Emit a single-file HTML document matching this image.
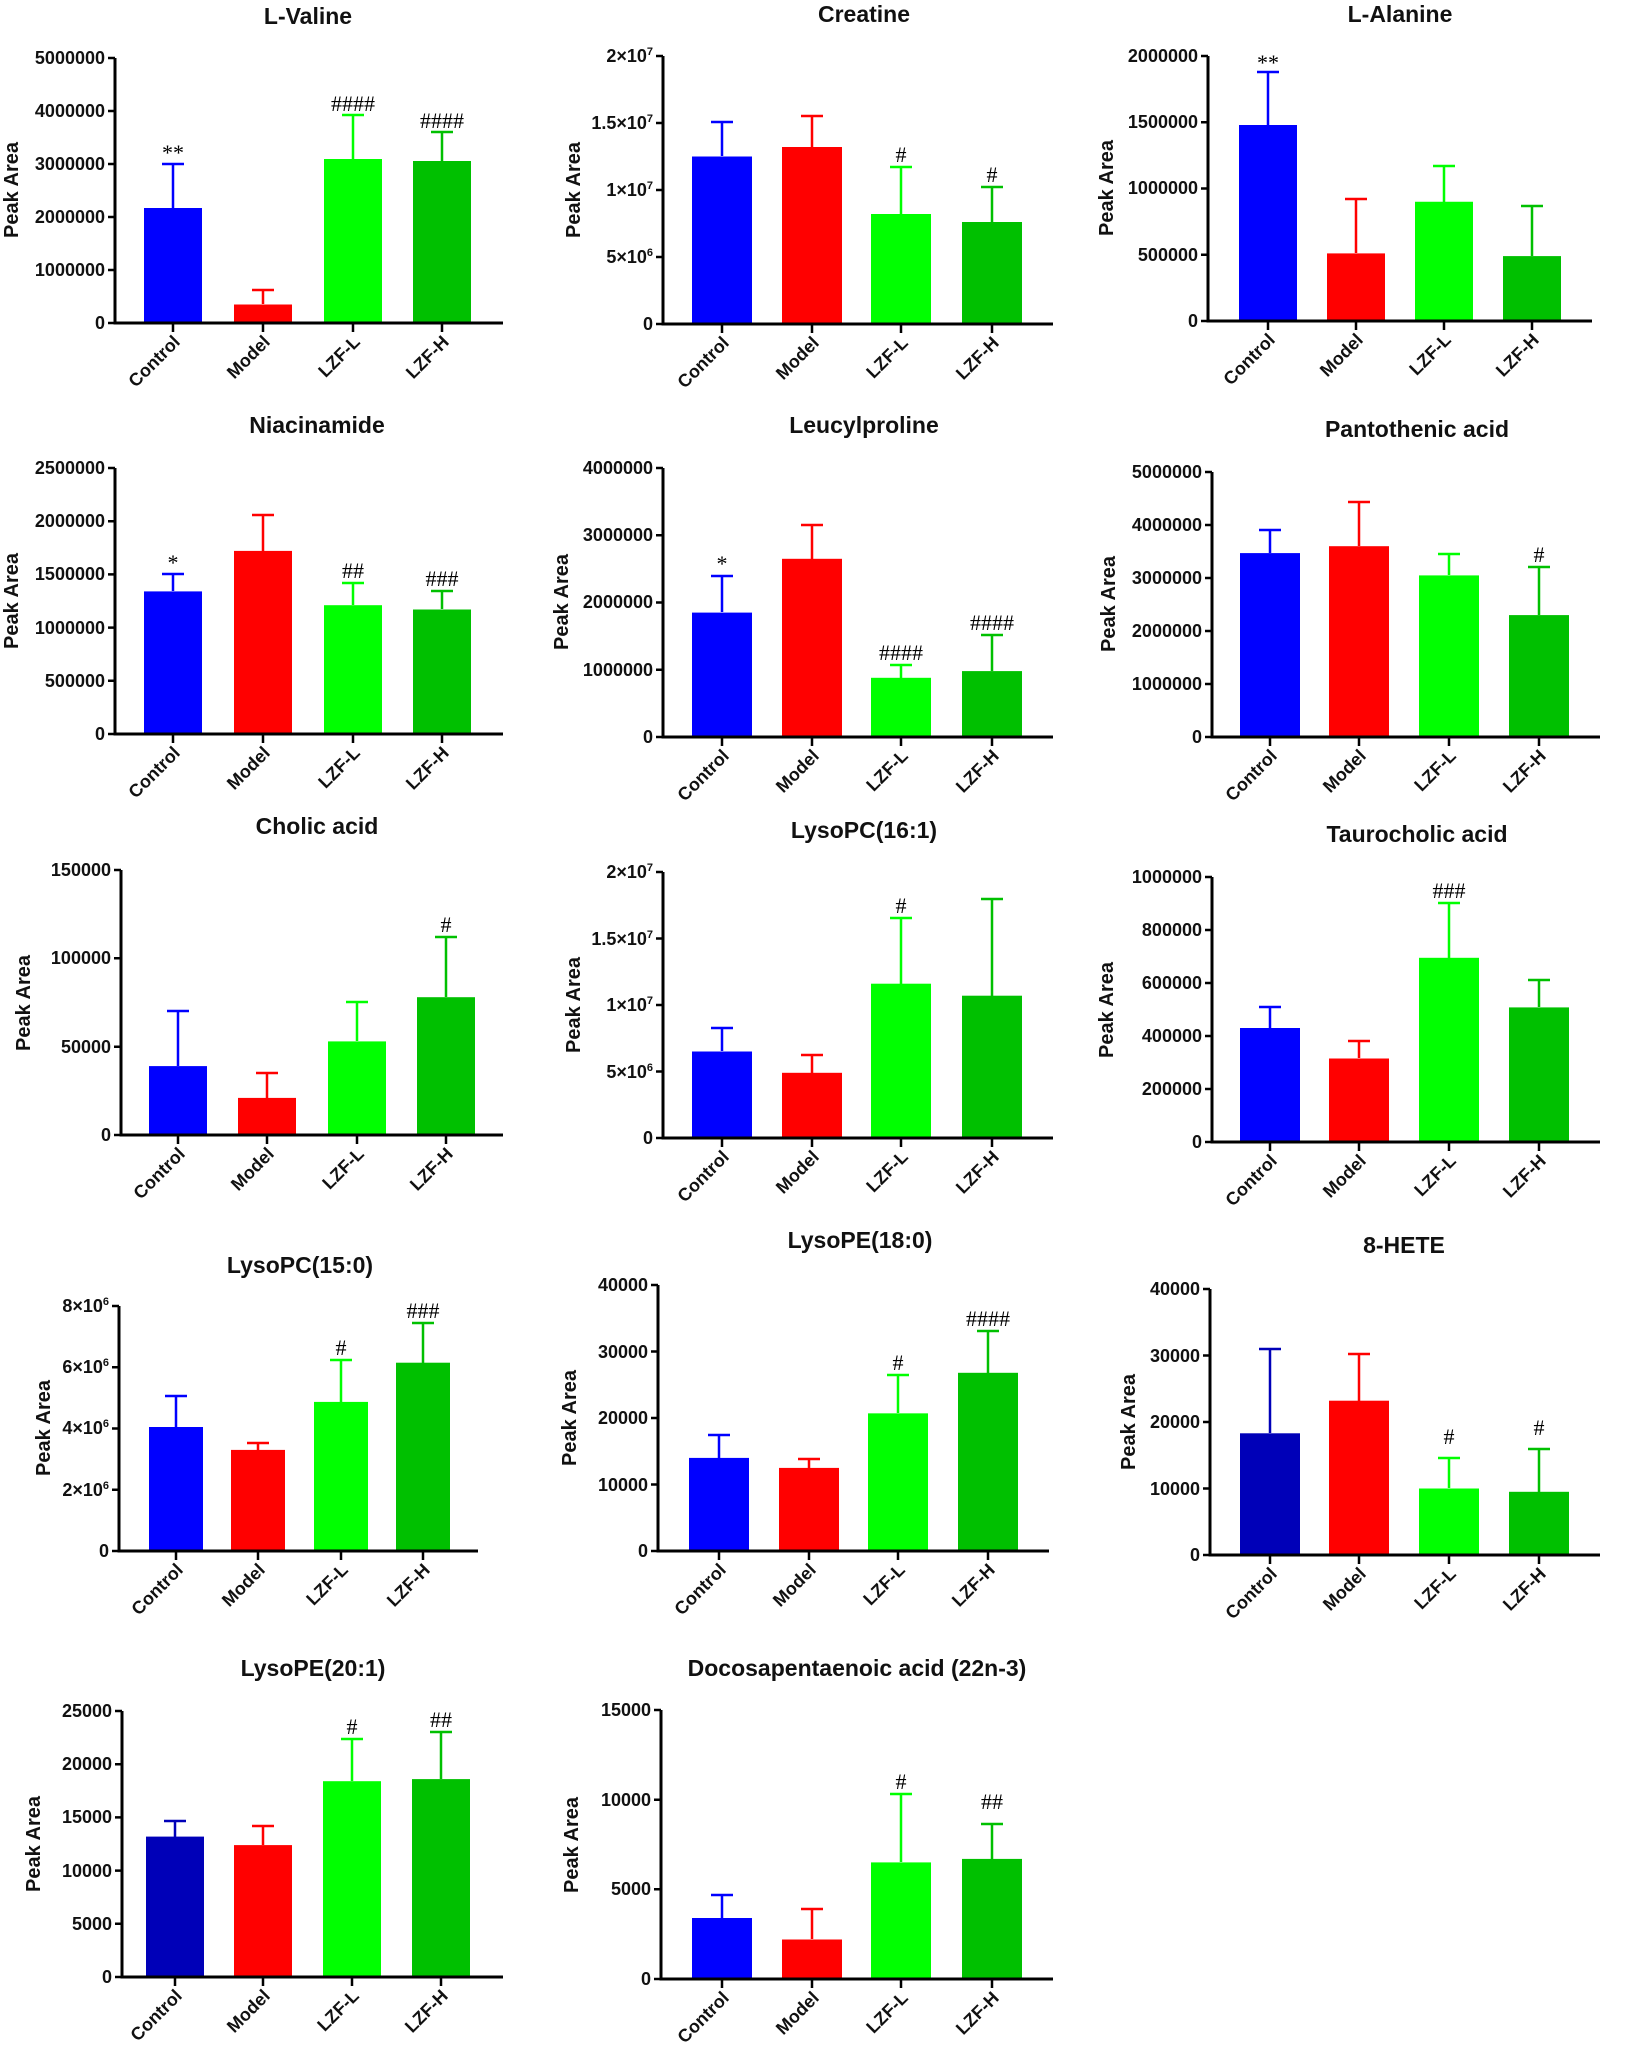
<!DOCTYPE html>
<html><head><meta charset="utf-8"><style>
html,body{margin:0;padding:0;background:#fff}
svg{display:block}
.t{font:bold 23px "Liberation Sans",sans-serif;text-anchor:middle;fill:#111}
.k{font:bold 18px "Liberation Sans",sans-serif;text-anchor:end;fill:#111}
.y{font:bold 20px "Liberation Sans",sans-serif;text-anchor:middle;fill:#111}
.x{font:bold 18px "Liberation Sans",sans-serif;text-anchor:end;fill:#111}
.s{font:22px "Liberation Serif",serif;text-anchor:middle;fill:#000}
.ax{stroke:#000;stroke-width:3;fill:none}
.tk{stroke:#000;stroke-width:2.5}
</style></head><body>
<svg width="1626" height="2059" viewBox="0 0 1626 2059" xmlns="http://www.w3.org/2000/svg">
<rect width="1626" height="2059" fill="#fff"/>

<!-- 1 L-Valine -->
<text class="t" x="308" y="24">L-Valine</text>
<text class="y" transform="translate(18,190) rotate(-90)">Peak Area</text>
<g class="k"><text x="105" y="329">0</text><text x="105" y="276">1000000</text><text x="105" y="223">2000000</text><text x="105" y="170">3000000</text><text x="105" y="117">4000000</text><text x="105" y="64">5000000</text></g>
<path class="tk" d="M108 323H115M108 270H115M108 217H115M108 164H115M108 111H115M108 58H115"/>
<rect x="144" y="208" width="58" height="115" fill="#0000ff"/>
<rect x="234" y="304.5" width="58" height="18.5" fill="#ff0000"/>
<rect x="324" y="159" width="58" height="164" fill="#00ff00"/>
<rect x="413" y="161" width="58" height="162" fill="#00c000"/>
<path d="M173 208V164M162 164H184" stroke="#0000ff" stroke-width="2.5"/>
<path d="M263 304V290M252 290H274" stroke="#ff0000" stroke-width="2.5"/>
<path d="M353 159V115M342 115H364" stroke="#00ff00" stroke-width="2.5"/>
<path d="M442 161V132M431 132H453" stroke="#00c000" stroke-width="2.5"/>
<text class="s" x="173" y="160">**</text><text class="s" x="353" y="111">####</text><text class="s" x="442" y="128">####</text>
<path class="ax" d="M115 58V323H503"/>
<path class="tk" d="M173 323V332M263 323V332M353 323V332M442 323V332"/>
<g class="x"><text transform="translate(181,343) rotate(-45)">Control</text><text transform="translate(271,343) rotate(-45)">Model</text><text transform="translate(361,343) rotate(-45)">LZF-L</text><text transform="translate(450,343) rotate(-45)">LZF-H</text></g>

<!-- 2 Creatine -->
<text class="t" x="864" y="22">Creatine</text>
<text class="y" transform="translate(580,190) rotate(-90)">Peak Area</text>
<g class="k"><text x="653" y="330">0</text><text x="653" y="263">5×10<tspan font-size="11" dy="-7">6</tspan></text><text x="653" y="196">1×10<tspan font-size="11" dy="-7">7</tspan></text><text x="653" y="129">1.5×10<tspan font-size="11" dy="-7">7</tspan></text><text x="653" y="62">2×10<tspan font-size="11" dy="-7">7</tspan></text></g>
<path class="tk" d="M656 324H663M656 257H663M656 190H663M656 123H663M656 56H663"/>
<rect x="692" y="156.5" width="60" height="167.5" fill="#0000ff"/>
<rect x="782" y="147" width="60" height="177" fill="#ff0000"/>
<rect x="871" y="214" width="60" height="110" fill="#00ff00"/>
<rect x="962" y="222" width="60" height="102" fill="#00c000"/>
<path d="M722 156V122M711 122H733" stroke="#0000ff" stroke-width="2.5"/>
<path d="M812 147V116M801 116H823" stroke="#ff0000" stroke-width="2.5"/>
<path d="M901 214V167M890 167H912" stroke="#00ff00" stroke-width="2.5"/>
<path d="M992 222V187M981 187H1003" stroke="#00c000" stroke-width="2.5"/>
<text class="s" x="901" y="162">#</text><text class="s" x="992" y="182">#</text>
<path class="ax" d="M663 56V324H1053"/>
<path class="tk" d="M722 324V333M812 324V333M901 324V333M992 324V333"/>
<g class="x"><text transform="translate(730,344) rotate(-45)">Control</text><text transform="translate(820,344) rotate(-45)">Model</text><text transform="translate(909,344) rotate(-45)">LZF-L</text><text transform="translate(1000,344) rotate(-45)">LZF-H</text></g>

<!-- 3 L-Alanine -->
<text class="t" x="1400" y="22">L-Alanine</text>
<text class="y" transform="translate(1113,188) rotate(-90)">Peak Area</text>
<g class="k"><text x="1198" y="327">0</text><text x="1198" y="261">500000</text><text x="1198" y="194">1000000</text><text x="1198" y="128">1500000</text><text x="1198" y="62">2000000</text></g>
<path class="tk" d="M1201 321H1208M1201 254.75H1208M1201 188.5H1208M1201 122.25H1208M1201 56H1208"/>
<rect x="1239" y="125" width="58" height="196" fill="#0000ff"/>
<rect x="1327" y="253.4" width="58" height="67.6" fill="#ff0000"/>
<rect x="1415" y="201.75" width="58" height="119.25" fill="#00ff00"/>
<rect x="1503" y="256.1" width="58" height="64.9" fill="#00c000"/>
<path d="M1268 125V72M1257 72H1279" stroke="#0000ff" stroke-width="2.5"/>
<path d="M1356 253V199M1345 199H1367" stroke="#ff0000" stroke-width="2.5"/>
<path d="M1444 202V166M1433 166H1455" stroke="#00ff00" stroke-width="2.5"/>
<path d="M1532 256V206M1521 206H1543" stroke="#00c000" stroke-width="2.5"/>
<text class="s" x="1268" y="70">**</text>
<path class="ax" d="M1208 56V321H1592"/>
<path class="tk" d="M1268 321V330M1356 321V330M1444 321V330M1532 321V330"/>
<g class="x"><text transform="translate(1276,341) rotate(-45)">Control</text><text transform="translate(1364,341) rotate(-45)">Model</text><text transform="translate(1452,341) rotate(-45)">LZF-L</text><text transform="translate(1540,341) rotate(-45)">LZF-H</text></g>

<!-- 4 Niacinamide -->
<text class="t" x="317" y="433">Niacinamide</text>
<text class="y" transform="translate(18,601) rotate(-90)">Peak Area</text>
<g class="k"><text x="105" y="740">0</text><text x="105" y="687">500000</text><text x="105" y="634">1000000</text><text x="105" y="580">1500000</text><text x="105" y="527">2000000</text><text x="105" y="474">2500000</text></g>
<path class="tk" d="M108 734H115M108 680.8H115M108 627.6H115M108 574.4H115M108 521.2H115M108 468H115"/>
<rect x="144" y="591.4" width="58" height="142.6" fill="#0000ff"/>
<rect x="234" y="550.9" width="58" height="183.1" fill="#ff0000"/>
<rect x="324" y="605.2" width="58" height="128.8" fill="#00ff00"/>
<rect x="413" y="609.5" width="58" height="124.5" fill="#00c000"/>
<path d="M173 591V574M162 574H184" stroke="#0000ff" stroke-width="2.5"/>
<path d="M263 551V515M252 515H274" stroke="#ff0000" stroke-width="2.5"/>
<path d="M353 605V583M342 583H364" stroke="#00ff00" stroke-width="2.5"/>
<path d="M442 609V591M431 591H453" stroke="#00c000" stroke-width="2.5"/>
<text class="s" x="173" y="570">*</text><text class="s" x="353" y="578">##</text><text class="s" x="442" y="586">###</text>
<path class="ax" d="M115 468V734H503"/>
<path class="tk" d="M173 734V743M263 734V743M353 734V743M442 734V743"/>
<g class="x"><text transform="translate(181,754) rotate(-45)">Control</text><text transform="translate(271,754) rotate(-45)">Model</text><text transform="translate(361,754) rotate(-45)">LZF-L</text><text transform="translate(450,754) rotate(-45)">LZF-H</text></g>

<!-- 5 Leucylproline -->
<text class="t" x="864" y="433">Leucylproline</text>
<text class="y" transform="translate(568,602) rotate(-90)">Peak Area</text>
<g class="k"><text x="653" y="743">0</text><text x="653" y="676">1000000</text><text x="653" y="608">2000000</text><text x="653" y="541">3000000</text><text x="653" y="474">4000000</text></g>
<path class="tk" d="M656 737H663M656 669.75H663M656 602.5H663M656 535.25H663M656 468H663"/>
<rect x="692" y="612.6" width="60" height="124.4" fill="#0000ff"/>
<rect x="782" y="558.8" width="60" height="178.2" fill="#ff0000"/>
<rect x="871" y="677.8" width="60" height="59.2" fill="#00ff00"/>
<rect x="962" y="671.1" width="60" height="65.9" fill="#00c000"/>
<path d="M722 612V576M711 576H733" stroke="#0000ff" stroke-width="2.5"/>
<path d="M812 559V525M801 525H823" stroke="#ff0000" stroke-width="2.5"/>
<path d="M901 678V665M890 665H912" stroke="#00ff00" stroke-width="2.5"/>
<path d="M992 671V635M981 635H1003" stroke="#00c000" stroke-width="2.5"/>
<text class="s" x="722" y="571">*</text><text class="s" x="901" y="660">####</text><text class="s" x="992" y="630">####</text>
<path class="ax" d="M663 468V737H1053"/>
<path class="tk" d="M722 737V746M812 737V746M901 737V746M992 737V746"/>
<g class="x"><text transform="translate(730,757) rotate(-45)">Control</text><text transform="translate(820,757) rotate(-45)">Model</text><text transform="translate(909,757) rotate(-45)">LZF-L</text><text transform="translate(1000,757) rotate(-45)">LZF-H</text></g>

<!-- 6 Pantothenic acid -->
<text class="t" x="1417" y="437">Pantothenic acid</text>
<text class="y" transform="translate(1115,604) rotate(-90)">Peak Area</text>
<g class="k"><text x="1202" y="743">0</text><text x="1202" y="690">1000000</text><text x="1202" y="637">2000000</text><text x="1202" y="584">3000000</text><text x="1202" y="531">4000000</text><text x="1202" y="478">5000000</text></g>
<path class="tk" d="M1205 737H1212M1205 684H1212M1205 631H1212M1205 578H1212M1205 525H1212M1205 472H1212"/>
<rect x="1240" y="553.1" width="60" height="183.9" fill="#0000ff"/>
<rect x="1329" y="546.2" width="60" height="190.8" fill="#ff0000"/>
<rect x="1419" y="575.4" width="60" height="161.6" fill="#00ff00"/>
<rect x="1509" y="615.1" width="60" height="121.9" fill="#00c000"/>
<path d="M1270 553V530M1259 530H1281" stroke="#0000ff" stroke-width="2.5"/>
<path d="M1359 546V502M1348 502H1370" stroke="#ff0000" stroke-width="2.5"/>
<path d="M1449 575V554M1438 554H1460" stroke="#00ff00" stroke-width="2.5"/>
<path d="M1539 615V567M1528 567H1550" stroke="#00c000" stroke-width="2.5"/>
<text class="s" x="1539" y="562">#</text>
<path class="ax" d="M1212 472V737H1600"/>
<path class="tk" d="M1270 737V746M1359 737V746M1449 737V746M1539 737V746"/>
<g class="x"><text transform="translate(1278,757) rotate(-45)">Control</text><text transform="translate(1367,757) rotate(-45)">Model</text><text transform="translate(1457,757) rotate(-45)">LZF-L</text><text transform="translate(1547,757) rotate(-45)">LZF-H</text></g>

<!-- 7 Cholic acid -->
<text class="t" x="317" y="834">Cholic acid</text>
<text class="y" transform="translate(30,1003) rotate(-90)">Peak Area</text>
<g class="k"><text x="111" y="1141">0</text><text x="111" y="1053">50000</text><text x="111" y="964">100000</text><text x="111" y="876">150000</text></g>
<path class="tk" d="M114 1135H121M114 1046.7H121M114 958.3H121M114 870H121"/>
<rect x="149" y="1066.1" width="58" height="68.9" fill="#0000ff"/>
<rect x="238" y="1097.9" width="58" height="37.1" fill="#ff0000"/>
<rect x="328" y="1041.4" width="58" height="93.6" fill="#00ff00"/>
<rect x="417" y="997.2" width="58" height="137.8" fill="#00c000"/>
<path d="M178 1066V1011M167 1011H189" stroke="#0000ff" stroke-width="2.5"/>
<path d="M267 1098V1073M256 1073H278" stroke="#ff0000" stroke-width="2.5"/>
<path d="M357 1041V1002M346 1002H368" stroke="#00ff00" stroke-width="2.5"/>
<path d="M446 997V937M435 937H457" stroke="#00c000" stroke-width="2.5"/>
<text class="s" x="446" y="932">#</text>
<path class="ax" d="M121 870V1135H503"/>
<path class="tk" d="M178 1135V1144M267 1135V1144M357 1135V1144M446 1135V1144"/>
<g class="x"><text transform="translate(186,1155) rotate(-45)">Control</text><text transform="translate(275,1155) rotate(-45)">Model</text><text transform="translate(365,1155) rotate(-45)">LZF-L</text><text transform="translate(454,1155) rotate(-45)">LZF-H</text></g>

<!-- 8 LysoPC(16:1) -->
<text class="t" x="864" y="838">LysoPC(16:1)</text>
<text class="y" transform="translate(580,1005) rotate(-90)">Peak Area</text>
<g class="k"><text x="653" y="1144">0</text><text x="653" y="1078">5×10<tspan font-size="11" dy="-7">6</tspan></text><text x="653" y="1011">1×10<tspan font-size="11" dy="-7">7</tspan></text><text x="653" y="945">1.5×10<tspan font-size="11" dy="-7">7</tspan></text><text x="653" y="878">2×10<tspan font-size="11" dy="-7">7</tspan></text></g>
<path class="tk" d="M656 1138H663M656 1071.5H663M656 1005H663M656 938.5H663M656 872H663"/>
<rect x="692" y="1051.5" width="60" height="86.5" fill="#0000ff"/>
<rect x="782" y="1072.8" width="60" height="65.2" fill="#ff0000"/>
<rect x="871" y="983.7" width="60" height="154.3" fill="#00ff00"/>
<rect x="962" y="995.7" width="60" height="142.3" fill="#00c000"/>
<path d="M722 1051V1028M711 1028H733" stroke="#0000ff" stroke-width="2.5"/>
<path d="M812 1073V1055M801 1055H823" stroke="#ff0000" stroke-width="2.5"/>
<path d="M901 984V918M890 918H912" stroke="#00ff00" stroke-width="2.5"/>
<path d="M992 996V899M981 899H1003" stroke="#00c000" stroke-width="2.5"/>
<text class="s" x="901" y="913">#</text>
<path class="ax" d="M663 872V1138H1053"/>
<path class="tk" d="M722 1138V1147M812 1138V1147M901 1138V1147M992 1138V1147"/>
<g class="x"><text transform="translate(730,1158) rotate(-45)">Control</text><text transform="translate(820,1158) rotate(-45)">Model</text><text transform="translate(909,1158) rotate(-45)">LZF-L</text><text transform="translate(1000,1158) rotate(-45)">LZF-H</text></g>

<!-- 9 Taurocholic acid -->
<text class="t" x="1417" y="842">Taurocholic acid</text>
<text class="y" transform="translate(1113,1010) rotate(-90)">Peak Area</text>
<g class="k"><text x="1202" y="1148">0</text><text x="1202" y="1095">200000</text><text x="1202" y="1042">400000</text><text x="1202" y="989">600000</text><text x="1202" y="936">800000</text><text x="1202" y="883">1000000</text></g>
<path class="tk" d="M1205 1142H1212M1205 1089H1212M1205 1036H1212M1205 983H1212M1205 930H1212M1205 877H1212"/>
<rect x="1240" y="1028" width="60" height="114" fill="#0000ff"/>
<rect x="1329" y="1058.5" width="60" height="83.5" fill="#ff0000"/>
<rect x="1419" y="957.8" width="60" height="184.2" fill="#00ff00"/>
<rect x="1509" y="1007.4" width="60" height="134.6" fill="#00c000"/>
<path d="M1270 1028V1007M1259 1007H1281" stroke="#0000ff" stroke-width="2.5"/>
<path d="M1359 1058V1041M1348 1041H1370" stroke="#ff0000" stroke-width="2.5"/>
<path d="M1449 958V903M1438 903H1460" stroke="#00ff00" stroke-width="2.5"/>
<path d="M1539 1007V980M1528 980H1550" stroke="#00c000" stroke-width="2.5"/>
<text class="s" x="1449" y="898">###</text>
<path class="ax" d="M1212 877V1142H1600"/>
<path class="tk" d="M1270 1142V1151M1359 1142V1151M1449 1142V1151M1539 1142V1151"/>
<g class="x"><text transform="translate(1278,1162) rotate(-45)">Control</text><text transform="translate(1367,1162) rotate(-45)">Model</text><text transform="translate(1457,1162) rotate(-45)">LZF-L</text><text transform="translate(1547,1162) rotate(-45)">LZF-H</text></g>

<!-- 10 LysoPC(15:0) -->
<text class="t" x="300" y="1273">LysoPC(15:0)</text>
<text class="y" transform="translate(50,1428) rotate(-90)">Peak Area</text>
<g class="k"><text x="109" y="1557">0</text><text x="109" y="1496">2×10<tspan font-size="11" dy="-7">6</tspan></text><text x="109" y="1434">4×10<tspan font-size="11" dy="-7">6</tspan></text><text x="109" y="1373">6×10<tspan font-size="11" dy="-7">6</tspan></text><text x="109" y="1312">8×10<tspan font-size="11" dy="-7">6</tspan></text></g>
<path class="tk" d="M112 1551H119M112 1489.75H119M112 1428.5H119M112 1367.25H119M112 1306H119"/>
<rect x="149" y="1427" width="54" height="124" fill="#0000ff"/>
<rect x="231" y="1449.9" width="54" height="101.1" fill="#ff0000"/>
<rect x="314" y="1401.9" width="54" height="149.1" fill="#00ff00"/>
<rect x="396" y="1362.7" width="54" height="188.3" fill="#00c000"/>
<path d="M176 1427V1396M165 1396H187" stroke="#0000ff" stroke-width="2.5"/>
<path d="M258 1450V1443M247 1443H269" stroke="#ff0000" stroke-width="2.5"/>
<path d="M341 1402V1360M330 1360H352" stroke="#00ff00" stroke-width="2.5"/>
<path d="M423 1363V1323M412 1323H434" stroke="#00c000" stroke-width="2.5"/>
<text class="s" x="341" y="1355">#</text><text class="s" x="423" y="1318">###</text>
<path class="ax" d="M119 1306V1551H478"/>
<path class="tk" d="M176 1551V1560M258 1551V1560M341 1551V1560M423 1551V1560"/>
<g class="x"><text transform="translate(184,1571) rotate(-45)">Control</text><text transform="translate(266,1571) rotate(-45)">Model</text><text transform="translate(349,1571) rotate(-45)">LZF-L</text><text transform="translate(431,1571) rotate(-45)">LZF-H</text></g>

<!-- 11 LysoPE(18:0) -->
<text class="t" x="860" y="1248">LysoPE(18:0)</text>
<text class="y" transform="translate(576,1418) rotate(-90)">Peak Area</text>
<g class="k"><text x="648" y="1557">0</text><text x="648" y="1491">10000</text><text x="648" y="1424">20000</text><text x="648" y="1358">30000</text><text x="648" y="1291">40000</text></g>
<path class="tk" d="M651 1551H658M651 1484.5H658M651 1418H658M651 1351.5H658M651 1285H658"/>
<rect x="689" y="1457.9" width="60" height="93.1" fill="#0000ff"/>
<rect x="779" y="1467.9" width="60" height="83.1" fill="#ff0000"/>
<rect x="868" y="1413.35" width="60" height="137.65" fill="#00ff00"/>
<rect x="958" y="1372.8" width="60" height="178.2" fill="#00c000"/>
<path d="M719 1458V1435M708 1435H730" stroke="#0000ff" stroke-width="2.5"/>
<path d="M809 1468V1459M798 1459H820" stroke="#ff0000" stroke-width="2.5"/>
<path d="M898 1413V1375M887 1375H909" stroke="#00ff00" stroke-width="2.5"/>
<path d="M988 1373V1331M977 1331H999" stroke="#00c000" stroke-width="2.5"/>
<text class="s" x="898" y="1370">#</text><text class="s" x="988" y="1326">####</text>
<path class="ax" d="M658 1285V1551H1049"/>
<path class="tk" d="M719 1551V1560M809 1551V1560M898 1551V1560M988 1551V1560"/>
<g class="x"><text transform="translate(727,1571) rotate(-45)">Control</text><text transform="translate(817,1571) rotate(-45)">Model</text><text transform="translate(906,1571) rotate(-45)">LZF-L</text><text transform="translate(996,1571) rotate(-45)">LZF-H</text></g>

<!-- 12 8-HETE -->
<text class="t" x="1404" y="1253">8-HETE</text>
<text class="y" transform="translate(1135,1422) rotate(-90)">Peak Area</text>
<g class="k"><text x="1200" y="1561">0</text><text x="1200" y="1495">10000</text><text x="1200" y="1428">20000</text><text x="1200" y="1362">30000</text><text x="1200" y="1295">40000</text></g>
<path class="tk" d="M1203 1555H1210M1203 1488.5H1210M1203 1422H1210M1203 1355.5H1210M1203 1289H1210"/>
<rect x="1240" y="1433.3" width="60" height="121.7" fill="#0000b8"/>
<rect x="1329" y="1400.7" width="60" height="154.3" fill="#ff0000"/>
<rect x="1419" y="1488.5" width="60" height="66.5" fill="#00ff00"/>
<rect x="1509" y="1491.8" width="60" height="63.2" fill="#00c000"/>
<path d="M1270 1433V1349M1259 1349H1281" stroke="#0000b8" stroke-width="2.5"/>
<path d="M1359 1401V1354M1348 1354H1370" stroke="#ff0000" stroke-width="2.5"/>
<path d="M1449 1488V1458M1438 1458H1460" stroke="#00ff00" stroke-width="2.5"/>
<path d="M1539 1492V1449M1528 1449H1550" stroke="#00c000" stroke-width="2.5"/>
<text class="s" x="1449" y="1444">#</text><text class="s" x="1539" y="1435">#</text>
<path class="ax" d="M1210 1289V1555H1600"/>
<path class="tk" d="M1270 1555V1564M1359 1555V1564M1449 1555V1564M1539 1555V1564"/>
<g class="x"><text transform="translate(1278,1575) rotate(-45)">Control</text><text transform="translate(1367,1575) rotate(-45)">Model</text><text transform="translate(1457,1575) rotate(-45)">LZF-L</text><text transform="translate(1547,1575) rotate(-45)">LZF-H</text></g>

<!-- 13 LysoPE(20:1) -->
<text class="t" x="313" y="1676">LysoPE(20:1)</text>
<text class="y" transform="translate(40,1844) rotate(-90)">Peak Area</text>
<g class="k"><text x="112" y="1983">0</text><text x="112" y="1930">5000</text><text x="112" y="1877">10000</text><text x="112" y="1823">15000</text><text x="112" y="1770">20000</text><text x="112" y="1717">25000</text></g>
<path class="tk" d="M115 1977H122M115 1923.8H122M115 1870.6H122M115 1817.4H122M115 1764.2H122M115 1711H122"/>
<rect x="146" y="1836.6" width="58" height="140.4" fill="#0000b8"/>
<rect x="234" y="1845.1" width="58" height="131.9" fill="#ff0000"/>
<rect x="323" y="1781.2" width="58" height="195.8" fill="#00ff00"/>
<rect x="412" y="1779.1" width="58" height="197.9" fill="#00c000"/>
<path d="M175 1837V1821M164 1821H186" stroke="#0000b8" stroke-width="2.5"/>
<path d="M263 1845V1826M252 1826H274" stroke="#ff0000" stroke-width="2.5"/>
<path d="M352 1781V1739M341 1739H363" stroke="#00ff00" stroke-width="2.5"/>
<path d="M441 1779V1732M430 1732H452" stroke="#00c000" stroke-width="2.5"/>
<text class="s" x="352" y="1734">#</text><text class="s" x="441" y="1727">##</text>
<path class="ax" d="M122 1711V1977H503"/>
<path class="tk" d="M175 1977V1986M263 1977V1986M352 1977V1986M441 1977V1986"/>
<g class="x"><text transform="translate(183,1997) rotate(-45)">Control</text><text transform="translate(271,1997) rotate(-45)">Model</text><text transform="translate(360,1997) rotate(-45)">LZF-L</text><text transform="translate(449,1997) rotate(-45)">LZF-H</text></g>

<!-- 14 Docosapentaenoic acid -->
<text class="t" x="857" y="1676">Docosapentaenoic acid (22n-3)</text>
<text class="y" transform="translate(578,1845) rotate(-90)">Peak Area</text>
<g class="k"><text x="651" y="1985">0</text><text x="651" y="1895">5000</text><text x="651" y="1806">10000</text><text x="651" y="1716">15000</text></g>
<path class="tk" d="M654 1979H661M654 1889.3H661M654 1799.7H661M654 1710H661"/>
<rect x="692" y="1918" width="60" height="61" fill="#0000ff"/>
<rect x="782" y="1939.5" width="60" height="39.5" fill="#ff0000"/>
<rect x="871" y="1862.4" width="60" height="116.6" fill="#00ff00"/>
<rect x="962" y="1858.9" width="60" height="120.1" fill="#00c000"/>
<path d="M722 1918V1895M711 1895H733" stroke="#0000ff" stroke-width="2.5"/>
<path d="M812 1939V1909M801 1909H823" stroke="#ff0000" stroke-width="2.5"/>
<path d="M901 1862V1794M890 1794H912" stroke="#00ff00" stroke-width="2.5"/>
<path d="M992 1859V1824M981 1824H1003" stroke="#00c000" stroke-width="2.5"/>
<text class="s" x="901" y="1789">#</text><text class="s" x="992" y="1809">##</text>
<path class="ax" d="M661 1710V1979H1053"/>
<path class="tk" d="M722 1979V1988M812 1979V1988M901 1979V1988M992 1979V1988"/>
<g class="x"><text transform="translate(730,1999) rotate(-45)">Control</text><text transform="translate(820,1999) rotate(-45)">Model</text><text transform="translate(909,1999) rotate(-45)">LZF-L</text><text transform="translate(1000,1999) rotate(-45)">LZF-H</text></g>
</svg>
</body></html>
